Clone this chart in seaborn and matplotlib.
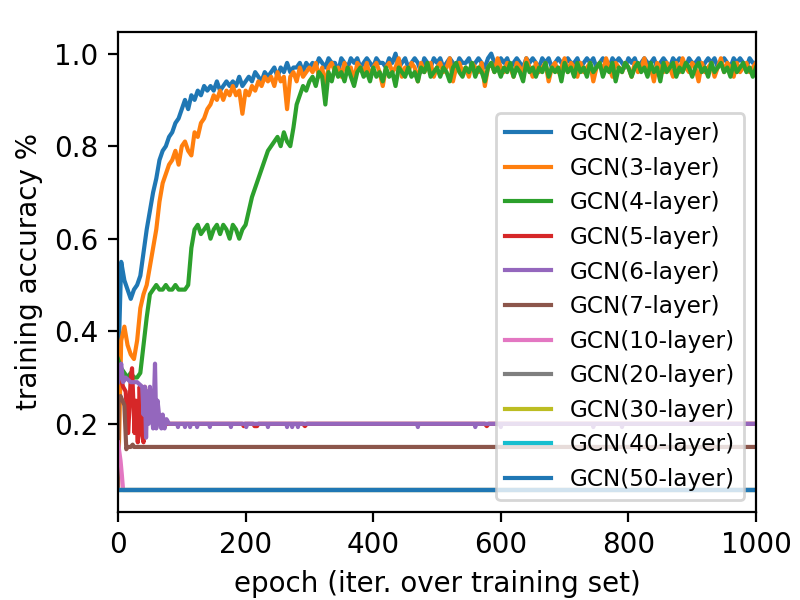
import numpy as np
import pandas as pd
import seaborn as sns
import matplotlib
matplotlib.use("Agg")
import matplotlib.pyplot as plt

# DATA

labels = ['GCN(2-layer)', 'GCN(3-layer)', 'GCN(4-layer)', 'GCN(5-layer)',
          'GCN(6-layer)', 'GCN(7-layer)', 'GCN(10-layer)', 'GCN(20-layer)',
          'GCN(30-layer)', 'GCN(40-layer)', 'GCN(50-layer)']

# rede rasas: uma leitura a cada 5 épocas (0..1000)
epochs_main = np.arange(0, 1001, 5)

acc_gcn2 = [
    0.30, 0.55, 0.51, 0.49, 0.47, 0.49, 0.50, 0.52, 0.57, 0.62,
    0.66, 0.70, 0.73, 0.77, 0.79, 0.80, 0.82, 0.83, 0.85, 0.86,
    0.88, 0.90, 0.88, 0.91, 0.90, 0.92, 0.91, 0.93, 0.92, 0.93,
    0.92, 0.94, 0.92, 0.93, 0.94, 0.93, 0.94, 0.93, 0.95, 0.93,
    0.94, 0.95, 0.94, 0.96, 0.95, 0.94, 0.96, 0.95, 0.96, 0.97,
    0.95, 0.97, 0.96, 0.98, 0.96, 0.97, 0.97, 0.98, 0.96, 0.98,
    0.97,
    0.98, 0.97, 0.99, 0.98, 0.97, 0.99, 0.98, 0.98, 0.96, 0.99,
    0.98, 0.97, 0.99, 0.98, 0.99, 0.97, 0.98, 0.99, 0.98, 0.97,
    0.99, 0.98, 0.98, 0.97, 0.99, 0.98, 1.00, 0.97, 0.98, 0.99,
    0.97, 0.98, 0.99, 0.98, 0.96, 0.99, 0.98, 0.97, 0.99, 0.98,
    0.99, 0.97, 0.98, 0.99, 0.98, 0.97, 0.99, 0.98, 0.98, 0.99,
    0.97, 0.98, 0.99, 0.98, 0.97, 0.99, 1.00, 0.98, 0.97, 0.99,
    0.98, 0.99, 0.97, 0.98, 0.99, 0.98, 0.97, 0.99, 0.98, 0.99,
    0.98, 0.97, 0.99, 0.98, 0.99, 0.97, 0.98, 0.99, 0.98, 0.97,
    0.99, 0.98, 0.98, 0.99, 0.97, 0.98, 0.99, 0.98, 0.99, 0.97,
    0.98, 0.99, 0.98, 0.97, 0.99, 0.98, 0.99, 0.98, 0.97, 0.99,
    0.98, 0.99, 0.97, 0.98, 0.99, 0.98, 0.98, 0.99, 0.97, 0.98,
    0.99, 0.98, 0.97, 0.99, 0.98, 0.99, 0.98, 0.97, 0.99, 0.98,
    0.98, 0.99, 0.97, 0.98, 0.99, 0.98, 0.99, 0.97, 0.98, 0.99,
    0.98, 0.97, 0.99, 0.98, 0.99, 0.98, 0.97, 0.99, 0.98, 0.98,
]

acc_gcn3 = [
    0.06, 0.38, 0.41, 0.37, 0.35, 0.34, 0.38, 0.45, 0.48, 0.50,
    0.54, 0.58, 0.62, 0.68, 0.72, 0.74, 0.76, 0.77, 0.79, 0.76,
    0.80, 0.81, 0.79, 0.78, 0.83, 0.82, 0.85, 0.86, 0.88, 0.89,
    0.91, 0.90, 0.92, 0.90, 0.92, 0.91, 0.93, 0.91, 0.92, 0.87,
    0.92, 0.91, 0.93, 0.92, 0.94, 0.93, 0.95, 0.94, 0.95, 0.93,
    0.96, 0.94, 0.95, 0.88, 0.95, 0.96, 0.94, 0.97, 0.95, 0.96,
    0.97,
    0.96, 0.98, 0.95, 0.97, 0.93, 0.97, 0.98, 0.96, 0.97, 0.95,
    0.98, 0.96, 0.97, 0.94, 0.98, 0.97, 0.96, 0.98, 0.95, 0.97,
    0.98, 0.96, 0.93, 0.97, 0.98, 0.96, 0.97, 0.99, 0.95, 0.97,
    0.96, 0.98, 0.97, 0.94, 0.98, 0.96, 0.97, 0.98, 0.95, 0.97,
    0.98, 0.96, 0.97, 0.99, 0.94, 0.97, 0.98, 0.96, 0.97, 0.95,
    0.98, 0.97, 0.96, 0.98, 0.93, 0.97, 0.98, 0.96, 0.99, 0.97,
    0.96, 0.98, 0.97, 0.95, 0.98, 0.97, 0.96, 0.99, 0.97, 0.95,
    0.98, 0.96, 0.97, 0.98, 0.94, 0.97, 0.98, 0.96, 0.97, 0.99,
    0.96, 0.98, 0.97, 0.95, 0.98, 0.96, 0.97, 0.98, 0.94, 0.97,
    0.98, 0.96, 0.99, 0.97, 0.95, 0.98, 0.97, 0.96, 0.98, 0.97,
    0.95, 0.98, 0.96, 0.97, 0.99, 0.96, 0.97, 0.94, 0.98, 0.97,
    0.96, 0.98, 0.97, 0.95, 0.98, 0.96, 0.99, 0.97, 0.96, 0.98,
    0.97, 0.94, 0.98, 0.96, 0.97, 0.98, 0.95, 0.97, 0.99, 0.96,
    0.98, 0.97, 0.95, 0.98, 0.96, 0.97, 0.98, 0.96, 0.97, 0.98,
]

acc_gcn4 = [
    0.34, 0.32, 0.31, 0.30, 0.31, 0.30, 0.30, 0.31, 0.37, 0.43,
    0.48, 0.49, 0.50, 0.49, 0.49, 0.50, 0.49, 0.49, 0.50, 0.49,
    0.49, 0.49, 0.50, 0.58, 0.62, 0.63, 0.61, 0.62, 0.63, 0.60,
    0.62, 0.63, 0.61, 0.63, 0.62, 0.60, 0.63, 0.62, 0.60, 0.62,
    0.63, 0.66, 0.69, 0.71, 0.73, 0.75, 0.77, 0.79, 0.80, 0.81,
    0.82, 0.80, 0.83, 0.81, 0.80, 0.84, 0.89, 0.91, 0.93, 0.92,
    0.94,
    0.95, 0.93, 0.96, 0.95, 0.89, 0.96, 0.94, 0.97, 0.95, 0.96,
    0.94, 0.97, 0.95, 0.93, 0.96, 0.97, 0.95, 0.96, 0.94, 0.97,
    0.95, 0.96, 0.94, 0.97, 0.95, 0.96, 0.93, 0.97, 0.96, 0.95,
    0.97, 0.95, 0.96, 0.94, 0.97, 0.96, 0.98, 0.95, 0.96, 0.97,
    0.95, 0.97, 0.96, 0.94, 0.97, 0.98, 0.96, 0.95, 0.97, 0.96,
    0.98, 0.95, 0.97, 0.96, 0.94, 0.97, 0.98, 0.96, 0.97, 0.95,
    0.97, 0.96, 0.98, 0.95, 0.97, 0.96, 0.94, 0.98, 0.96, 0.97,
    0.95, 0.97, 0.96, 0.98, 0.95, 0.97, 0.96, 0.97, 0.94, 0.98,
    0.96, 0.97, 0.95, 0.98, 0.96, 0.97, 0.95, 0.98, 0.96, 0.97,
    0.98, 0.95, 0.97, 0.96, 0.98, 0.94, 0.97, 0.96, 0.98, 0.97,
    0.95, 0.97, 0.98, 0.96, 0.97, 0.95, 0.98, 0.96, 0.97, 0.94,
    0.98, 0.96, 0.97, 0.98, 0.95, 0.97, 0.96, 0.98, 0.97, 0.95,
    0.97, 0.98, 0.96, 0.97, 0.95, 0.98, 0.96, 0.97, 0.98, 0.96,
    0.97, 0.95, 0.98, 0.96, 0.97, 0.98, 0.96, 0.97, 0.95, 0.97,
]

# redes profundas: leituras nos pontos onde a curva muda
epochs_gcn5 = [0, 4, 8, 12, 16, 20, 22, 26, 28, 31, 34, 37, 40, 42, 46, 50, 55,
               60, 66, 70, 75, 195, 197, 199, 212, 214, 218, 220, 290, 293,
               296, 575, 578, 581, 1000]
acc_gcn5 = [0.31, 0.30, 0.28, 0.27, 0.18, 0.30, 0.32, 0.18, 0.25, 0.16, 0.28,
            0.18, 0.16, 0.28, 0.25, 0.21, 0.24, 0.22, 0.21, 0.205, 0.20, 0.20,
            0.195, 0.20, 0.20, 0.195, 0.195, 0.20, 0.20, 0.195, 0.20, 0.20,
            0.195, 0.20, 0.20]

epochs_gcn6 = [0, 3, 5, 8, 12, 20, 30, 38, 40, 42, 44, 46, 48, 50, 52, 55, 58,
               60, 62, 65, 68, 70, 73, 76, 80,
               93, 94, 95, 104, 105, 106, 112, 113, 114, 123, 124, 125,
               143, 144, 145, 176, 177, 178, 200, 201, 202, 234, 235, 236,
               264, 265, 266, 272, 273, 274, 281, 282, 283, 469, 470, 471,
               559, 560, 561, 599, 600, 601, 744, 745, 746, 789, 790, 791,
               1000]
acc_gcn6 = [0.29, 0.31, 0.33, 0.29, 0.30, 0.29, 0.29, 0.28, 0.22, 0.28, 0.17,
            0.27, 0.20, 0.28, 0.24, 0.19, 0.33, 0.19, 0.25, 0.21, 0.19, 0.22,
            0.19, 0.21, 0.20,
            0.20, 0.193, 0.20, 0.20, 0.193, 0.20, 0.20, 0.193, 0.20, 0.20,
            0.193, 0.20, 0.20, 0.193, 0.20, 0.20, 0.193, 0.20, 0.20, 0.193,
            0.20, 0.20, 0.193, 0.20, 0.20, 0.193, 0.20, 0.20, 0.193, 0.20,
            0.20, 0.193, 0.20, 0.20, 0.193, 0.20, 0.20, 0.193, 0.20, 0.20,
            0.193, 0.20, 0.20, 0.193, 0.20, 0.20, 0.193, 0.20,
            0.20]

epochs_gcn7 = [0, 1, 4, 7, 10, 13, 15, 20, 23, 25, 1000]
acc_gcn7 = [0.06, 0.25, 0.26, 0.25, 0.24, 0.145, 0.15, 0.15, 0.155, 0.15, 0.15]

epochs_gcn10 = [0, 2, 4, 6, 8, 1000]
acc_gcn10 = [0.16, 0.14, 0.12, 0.09, 0.057, 0.057]

epochs_flat = [0, 1000]
acc_gcn20 = [0.057, 0.057]
acc_gcn30 = [0.057, 0.057]
acc_gcn40 = [0.057, 0.057]
acc_gcn50 = [0.057, 0.057]

# TRANSFORMAÇÃO: tabela longa para o seaborn
series = [
    (epochs_main, acc_gcn2), (epochs_main, acc_gcn3), (epochs_main, acc_gcn4),
    (epochs_gcn5, acc_gcn5), (epochs_gcn6, acc_gcn6), (epochs_gcn7, acc_gcn7),
    (epochs_gcn10, acc_gcn10), (epochs_flat, acc_gcn20),
    (epochs_flat, acc_gcn30), (epochs_flat, acc_gcn40),
    (epochs_flat, acc_gcn50),
]
partes = []
for nome, (ep, acc) in zip(labels, series):
    partes.append(pd.DataFrame({'epoch': ep, 'acc': acc, 'modelo': nome}))
df = pd.concat(partes, ignore_index=True)

# VISUALIZAÇÃO
fig, ax = plt.subplots(figsize=(4, 3), dpi=200)
sns.lineplot(
    data=df,
    x='epoch',
    y='acc',
    hue='modelo',
    hue_order=labels,
    palette=sns.color_palette('tab10', len(labels)),
    estimator=None,
    linewidth=1.5,
    ax=ax,
)
ax.set_xlim(0, 1000)
ax.set_xlabel('epoch (iter. over training set)')
ax.set_ylabel('training accuracy %')
sns.move_legend(ax, 'lower right', title=None, fontsize='small')
fig.subplots_adjust(left=0.1475, right=0.945, top=0.947, bottom=0.147)
fig.savefig('out.png', dpi=200)
